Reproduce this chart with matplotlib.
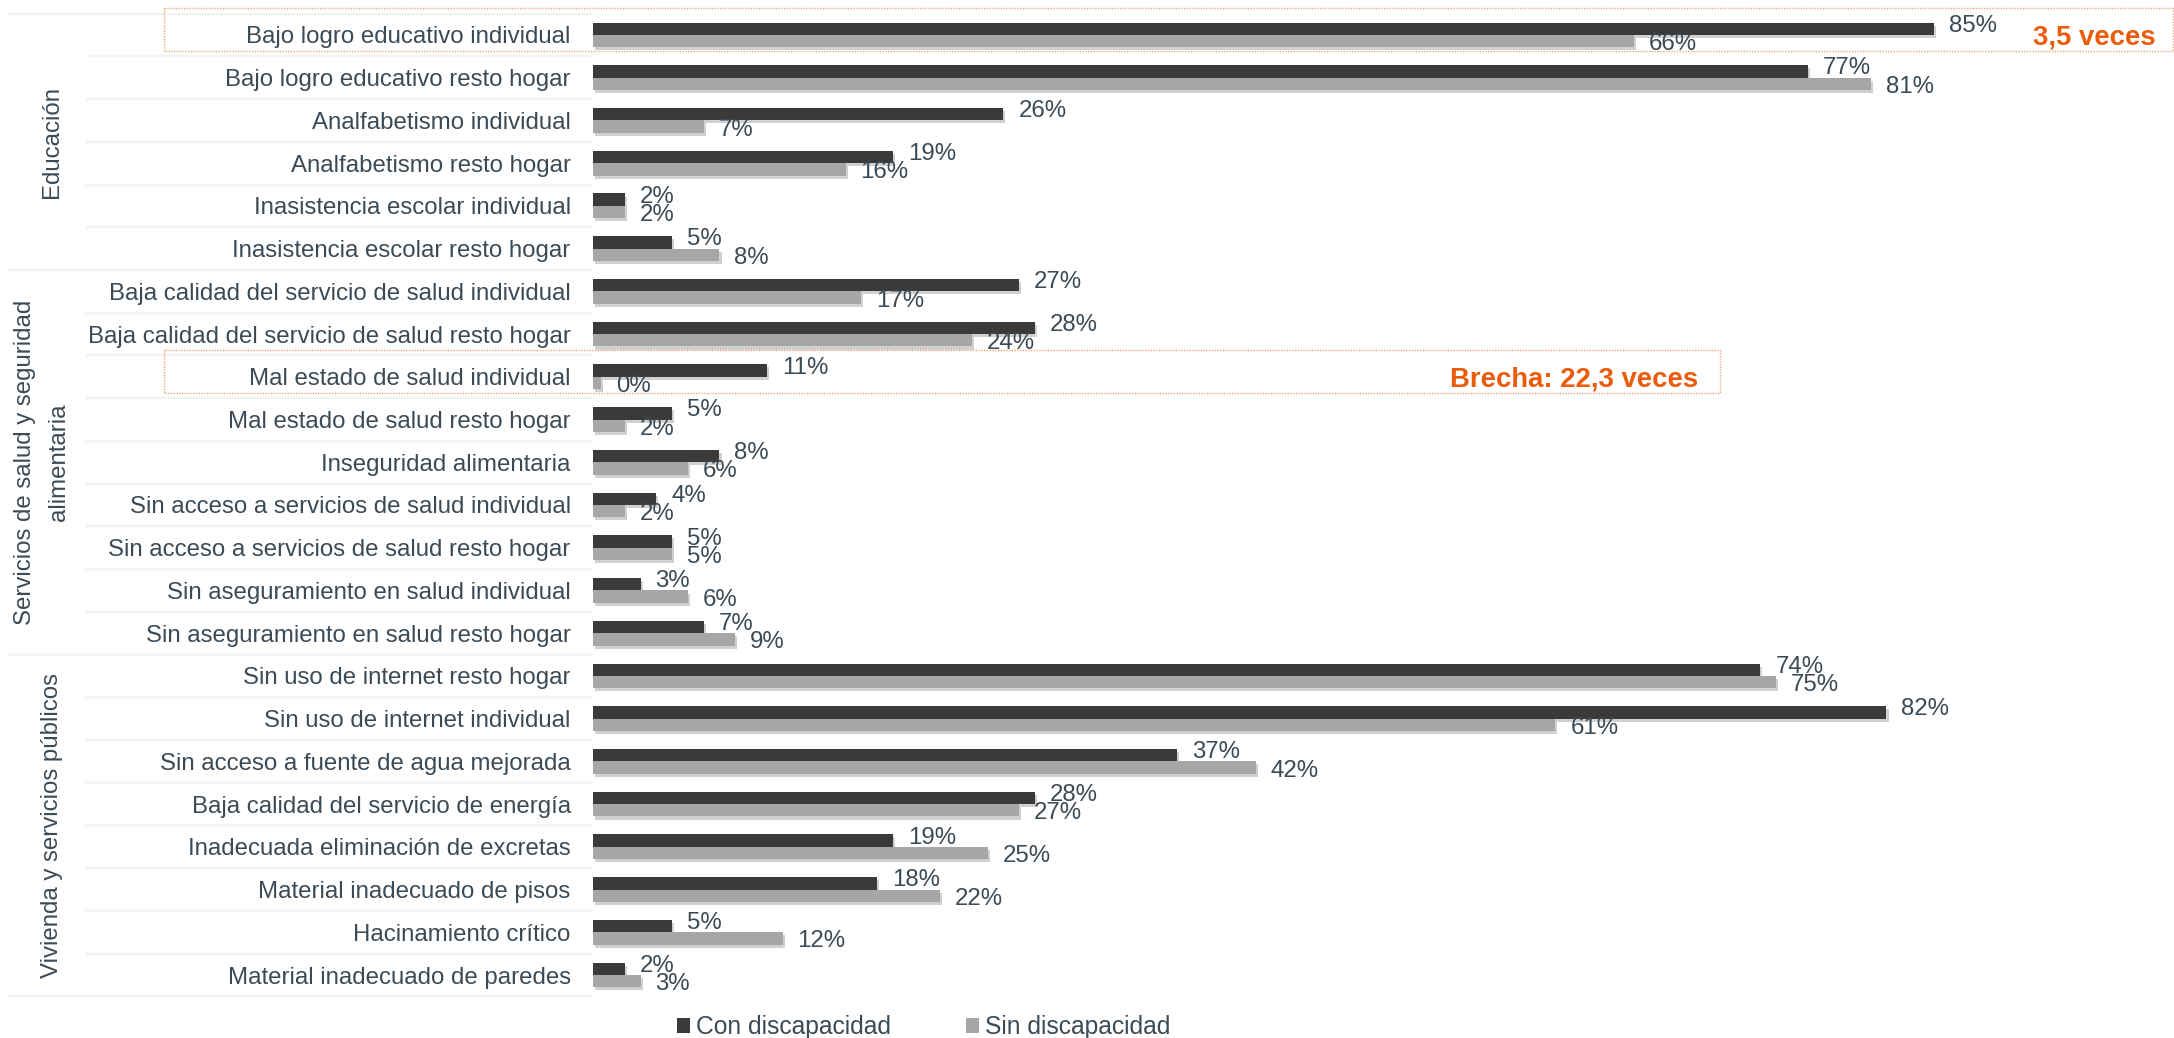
import matplotlib
matplotlib.use("Agg")
import matplotlib.pyplot as plt
import matplotlib.patches as mpatches
import matplotlib.patheffects as pe
from matplotlib.transforms import blended_transform_factory
from matplotlib.lines import Line2D
import numpy as np

plt.rcParams['font.family'] = ['Liberation Sans', 'DejaVu Sans']

# ---------------- data ----------------
categories = [
    "Bajo logro educativo individual",
    "Bajo logro educativo resto hogar",
    "Analfabetismo individual",
    "Analfabetismo resto hogar",
    "Inasistencia escolar individual",
    "Inasistencia escolar resto hogar",
    "Baja calidad del servicio de salud individual",
    "Baja calidad del servicio de salud resto hogar",
    "Mal estado de salud individual",
    "Mal estado de salud resto hogar",
    "Inseguridad alimentaria",
    "Sin acceso a servicios de salud individual",
    "Sin acceso a servicios de salud resto hogar",
    "Sin aseguramiento en salud individual",
    "Sin aseguramiento en salud resto hogar",
    "Sin uso de internet resto hogar",
    "Sin uso de internet individual",
    "Sin acceso a fuente de agua mejorada",
    "Baja calidad del servicio de energía",
    "Inadecuada eliminación de excretas",
    "Material inadecuado de pisos",
    "Hacinamiento crítico",
    "Material inadecuado de paredes",
]
con_discapacidad = [85, 77, 26, 19, 2, 5, 27, 28, 11, 5, 8, 4, 5, 3, 7,
                    74, 82, 37, 28, 19, 18, 5, 2]
sin_discapacidad = [66, 81, 7, 16, 2, 8, 17, 24, 0.47, 2, 6, 2, 5, 6, 9,
                    75, 61, 42, 27, 25, 22, 12, 3]
series_names = ["Con discapacidad", "Sin discapacidad"]

groups = ["Educación",
          "Servicios de salud y seguridad\nalimentaria",
          "Vivienda y servicios públicos"]
group_sizes = [6, 9, 8]

highlight_rows = [0, 8]
highlight_texts = ["3,5 veces", "Brecha: 22,3 veces"]

# ---------------- style ----------------
W, H = 2174, 1038
DARK = '#3b3a38'
GRAY = '#a6a6a6'
TXT = '#3c4a55'
ORANGE = '#ea5b0c'
DOT = '#f5a67a'
FS = 17.3
px = 72 / 100.0

fig = plt.figure(figsize=(W / 100, H / 100), dpi=100)
ax_left = 593.3 / W
ax_w = 1577 / W
row_h = 42.73
top_px = 13.6
n = len(categories)
ax_bottom = (H - top_px - n * row_h) / H
ax = fig.add_axes([ax_left, ax_bottom, ax_w, n * row_h / H])
ax.set_xlim(0, 100)
ax.set_ylim(n - 0.5, -0.5)

y = np.arange(n)
bh = 0.29
shadow = [pe.SimplePatchShadow(offset=(1.5, -2.2), shadow_rgbFace='#6f6f6f', alpha=0.32), pe.Normal()]
b1 = ax.barh(y - bh / 2, con_discapacidad, height=bh, color=DARK, zorder=2)
b2 = ax.barh(y + bh / 2, sin_discapacidad, height=bh, color=GRAY, zorder=3)
for p in list(b1) + list(b2):
    p.set_path_effects(shadow)

for yi, v in zip(y, con_discapacidad):
    ax.annotate(f"{v:.0f}%", xy=(v, yi - bh / 2), xytext=(15 * px, 5.5 * px),
                textcoords='offset points', ha='left', va='center_baseline',
                fontsize=FS, color=TXT, zorder=5)
for yi, v in zip(y, sin_discapacidad):
    ax.annotate(f"{v:.0f}%", xy=(v, yi + bh / 2), xytext=(15 * px, -0.5 * px),
                textcoords='offset points', ha='left', va='center_baseline',
                fontsize=FS, color=TXT, zorder=5)

ax.set_yticks(y)
ax.set_yticklabels(categories, fontsize=FS, color=TXT)
ax.tick_params(axis='y', length=0, pad=22.6 * px)
ax.set_xticks([])
for s in ax.spines.values():
    s.set_visible(False)

# ---- row / group separators in label area ----
bt = blended_transform_factory(fig.transFigure, ax.transData)
bounds = np.cumsum([0] + group_sizes)
for k in range(n + 1):
    yb = k - 0.5
    x0 = 9 / W if k in bounds else 87 / W
    fig.add_artist(Line2D([x0, 591 / W], [yb, yb], transform=bt,
                          color='#f2f2f2', lw=1.6, zorder=0))

# ---- group labels ----
gx = [52 / W, 42 / W, 52 / W]
for g, (a, b_), xg in zip(groups, zip(bounds[:-1], bounds[1:]), gx):
    ax.text(xg, (a + b_ - 1) / 2, g, transform=bt, rotation=90,
            ha='center', va='center', fontsize=FS, color=TXT,
            linespacing=1.7, multialignment='center')

# ---- highlight boxes ----
box_x = [(164 / W, 2173 / W), (164 / W, 1720 / W)]
text_x = [2156 / W, 1698 / W]
for r, t, (x0, x1), tx in zip(highlight_rows, highlight_texts, box_x, text_x):
    rect = mpatches.Rectangle((x0, r - 0.62), x1 - x0, 1.0, transform=bt,
                              fill=False, edgecolor=DOT, lw=1.0,
                              linestyle=(0, (1, 1)), clip_on=False, zorder=6)
    fig.add_artist(rect)
    ax.text(tx, r, t, transform=bt, ha='right', va='center_baseline',
            fontsize=19.8, fontweight='bold', color=ORANGE, zorder=7)

# ---- legend ----
handles = [mpatches.Patch(facecolor=DARK, edgecolor='none'),
           mpatches.Patch(facecolor=GRAY, edgecolor='none')]
leg = fig.legend(handles, series_names, loc='center',
                 bbox_to_anchor=(923.5 / W, 1 - 1027 / H), ncol=2,
                 frameon=False, fontsize=17.7, handlelength=0.55,
                 handleheight=0.55, handletextpad=0.22, columnspacing=3.05)
for t in leg.get_texts():
    t.set_color(TXT)

fig.savefig('out.png', dpi=100, facecolor='white')
